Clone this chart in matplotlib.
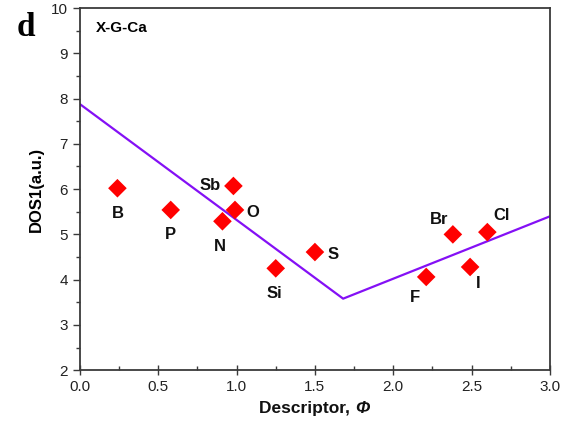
import matplotlib
matplotlib.use("Agg")
import matplotlib.pyplot as plt
from matplotlib.ticker import MultipleLocator, FormatStrFormatter

plt.rcParams['font.family'] = ['Liberation Sans', 'DejaVu Sans']

# Dopant elements and their descriptor / DOS1 values
elements = ['B', 'P', 'N', 'Sb', 'O', 'Si', 'S', 'F', 'Br', 'I', 'Cl']
phi = [0.24, 0.58, 0.91, 0.98, 0.99, 1.25, 1.50, 2.21, 2.38, 2.49, 2.60]
dos1 = [6.02, 5.54, 5.29, 6.07, 5.54, 4.25, 4.61, 4.06, 5.00, 4.28, 5.05]

# Piecewise-linear guide (volcano shape)
fit_x = [0.0, 1.68, 3.0]
fit_y = [7.88, 3.58, 5.40]

# Label offsets in points (dx, dy)
label_offsets = {
    'B': (0, -18), 'P': (0, -18), 'N': (-2, -18), 'Sb': (-17, 0),
    'O': (13, -2), 'Si': (-1, -18), 'S': (13, -2), 'F': (-8, -15),
    'Br': (-10, 11), 'I': (6, -12), 'Cl': (10, 12),
}

fig = plt.figure(figsize=(5.7, 4.25), dpi=100)
ax = fig.add_axes([0.140, 0.129, 0.825, 0.852])

ax.plot(fit_x, fit_y, color='#8410f5', lw=1.6, zorder=2)
ax.scatter(phi, dos1, marker='D', s=90, color='#ff0000', edgecolors='none', zorder=3)

for el, x, y in zip(elements, phi, dos1):
    dx, dy = label_offsets[el]
    ax.annotate(el, (x, y), xytext=(dx, dy), textcoords='offset points',
                ha='center', va='center', fontsize=12, fontweight='bold', color='#111111')

ax.set_xlim(0, 3.0)
ax.set_ylim(2, 10)
ax.xaxis.set_major_locator(MultipleLocator(0.5))
ax.xaxis.set_minor_locator(MultipleLocator(0.25))
ax.yaxis.set_major_locator(MultipleLocator(1))
ax.yaxis.set_minor_locator(MultipleLocator(0.5))
ax.xaxis.set_major_formatter(FormatStrFormatter('%.1f'))

for s in ax.spines.values():
    s.set_color('#3a3a3a')
    s.set_linewidth(1.3)

ax.tick_params(axis='y', which='major', direction='out', length=5, width=1, labelsize=11,
               colors='#3a3a3a', labelcolor='#222222')
ax.tick_params(axis='y', which='minor', direction='out', length=3, width=1, colors='#3a3a3a')
ax.tick_params(axis='x', which='major', direction='inout', length=7, width=1, labelsize=11,
               colors='#3a3a3a', labelcolor='#222222')
ax.tick_params(axis='x', which='minor', direction='in', length=3, width=1, colors='#3a3a3a')

# x-axis title: upright "Descriptor," followed by an italic Phi
xl = fig.text(0.455, 0.028, 'Descriptor, ', fontsize=12.5, fontweight='bold',
              ha='left', va='baseline', color='#111111')
ax.annotate('\u03A6', xy=(1, 0), xycoords=xl, xytext=(0, 0), textcoords='offset points',
            ha='left', va='bottom', fontsize=12.5, fontweight='bold', fontstyle='italic',
            color='#111111', annotation_clip=False)

ax.set_ylabel('DOS1(a.u.)', fontsize=12, fontweight='bold', labelpad=5)

ax.text(0.035, 0.945, 'X-G-Ca', transform=ax.transAxes, fontsize=11, fontweight='bold',
        ha='left', va='center')
fig.text(0.045, 0.935, 'd', fontsize=24, fontweight='bold', family='Liberation Serif',
         ha='center', va='center')

fig.savefig('out.png', dpi=100)
